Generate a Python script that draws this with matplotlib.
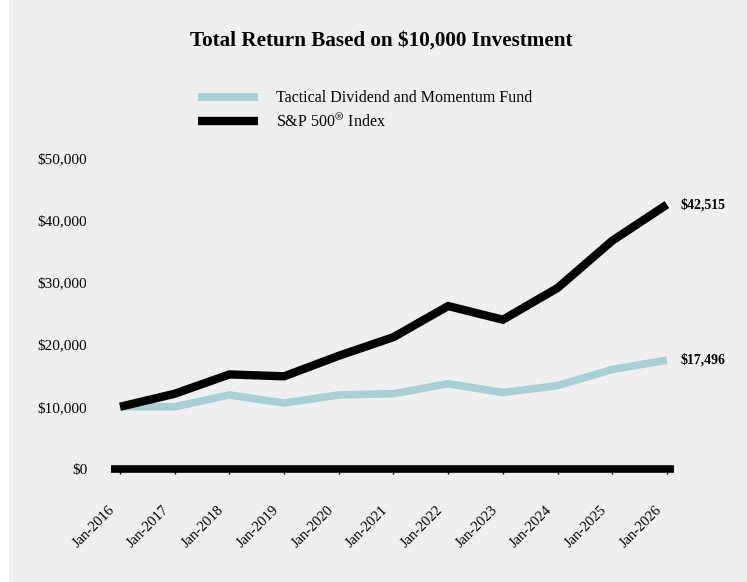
import matplotlib
matplotlib.use("Agg")
import matplotlib.pyplot as plt
import matplotlib.transforms as mtransforms
from matplotlib.patches import Rectangle

plt.rcParams['font.family'] = ['Liberation Serif', 'DejaVu Serif']
plt.rcParams['mathtext.fontset'] = 'stix'

# data
years = ['Jan-2016', 'Jan-2017', 'Jan-2018', 'Jan-2019', 'Jan-2020', 'Jan-2021',
         'Jan-2022', 'Jan-2023', 'Jan-2024', 'Jan-2025', 'Jan-2026']
fund = [10000, 10000, 11900, 10600, 11900, 12100, 13700, 12300, 13400, 16000, 17496]
sp500 = [10000, 12100, 15200, 14900, 18200, 21200, 26200, 24000, 29100, 36700, 42515]
fund_label = 'Tactical Dividend and Momentum Fund'
sp_label = r'S&P 500$^{\circledR}$ Index'

bg = '#efefef'
teal = '#a7d0d5'

fig = plt.figure(figsize=(7.47, 5.82), dpi=100, facecolor='white')
fig.patches.append(Rectangle((9 / 747, 0), 1, 1, transform=fig.transFigure,
                             facecolor=bg, edgecolor='none', zorder=-10))
ax = fig.add_axes([0.1486, 0.1942, 0.7537, 0.5343])
ax.set_facecolor(bg)

x = list(range(len(years)))
ax.plot(x, fund, color=teal, lw=5.5, solid_capstyle='butt', solid_joinstyle='miter',
        label=fund_label, zorder=3)
ax.plot(x, sp500, color='black', lw=6, solid_capstyle='butt', solid_joinstyle='miter',
        label=sp_label, zorder=4)

ax.set_xlim(-0.165, 10.13)
ax.set_ylim(0, 50000)
ax.set_yticks(range(0, 50001, 10000))
ax.set_yticklabels(['$0', '$10,000', '$20,000', '$30,000', '$40,000', '$50,000'], fontsize=11)
ax.tick_params(axis='y', length=0, pad=17)
ax.set_xticks(x)
ax.set_xticklabels(years, rotation=45, ha='right', rotation_mode='anchor', fontsize=10.5)
ax.tick_params(axis='x', length=3.5, width=1, direction='out', pad=21, color='black')
shift = mtransforms.ScaledTranslation(-0.12, 0, fig.dpi_scale_trans)
for lab in ax.get_xticklabels():
    lab.set_transform(lab.get_transform() + shift)

for s in ['top', 'right', 'left']:
    ax.spines[s].set_visible(False)
ax.spines['bottom'].set_linewidth(5.5)
ax.spines['bottom'].set_capstyle('butt')

ax.annotate('${:,}'.format(sp500[-1]), (x[-1], sp500[-1]), xytext=(10, 0),
            textcoords='offset points', va='center', fontsize=10, fontweight='bold')
ax.annotate('${:,}'.format(fund[-1]), (x[-1], fund[-1]), xytext=(10, 0),
            textcoords='offset points', va='center', fontsize=10, fontweight='bold')

fig.text(0.51, 0.931, 'Total Return Based on $10,000 Investment', ha='center', va='center',
         fontsize=15.2, fontweight='bold')

leg = ax.legend(loc='upper left', bbox_to_anchor=(0.2657, 0.845), bbox_transform=fig.transFigure,
                frameon=False, fontsize=11.5, handlelength=3.75, handletextpad=1.1,
                labelspacing=0.45, borderaxespad=0, borderpad=0)

fig.savefig('out.png', dpi=100, facecolor=fig.get_facecolor())
